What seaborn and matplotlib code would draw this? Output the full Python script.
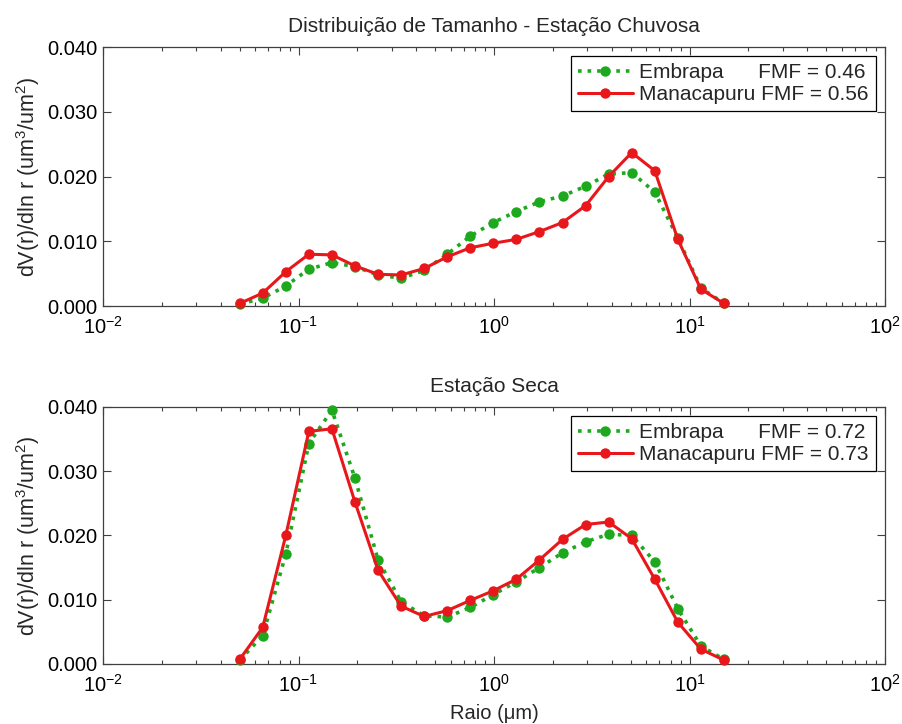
import numpy as np
import pandas as pd
import matplotlib
matplotlib.use("Agg")
import matplotlib.pyplot as plt
import seaborn as sns
from matplotlib.ticker import LogLocator, FixedLocator, FormatStrFormatter, NullFormatter, LogFormatterMathtext

# ---------------- data ----------------
radius = [0.050, 0.065604, 0.086077, 0.112939, 0.148184, 0.194429, 0.255105,
          0.334716, 0.439173, 0.576227, 0.756052, 0.991996, 1.301571, 1.707757,
          2.240702, 2.939966, 3.857452, 5.061260, 6.640745, 8.713145, 11.432287, 15.0]

wet_embrapa = [0.0003, 0.0012, 0.0031, 0.0057, 0.0067, 0.0061, 0.0048, 0.0043, 0.0055,
               0.0080, 0.0108, 0.0129, 0.0146, 0.0161, 0.0170, 0.0185, 0.0204, 0.0206,
               0.0176, 0.0105, 0.0028, 0.0004]
wet_manacapuru = [0.0004, 0.0020, 0.0053, 0.0080, 0.0079, 0.0062, 0.0049, 0.0048, 0.0058,
                  0.0076, 0.0090, 0.0097, 0.0103, 0.0115, 0.0129, 0.0155, 0.0200, 0.0237,
                  0.0209, 0.0103, 0.0026, 0.0004]
dry_embrapa = [0.0006, 0.0044, 0.0171, 0.0343, 0.0395, 0.0289, 0.0162, 0.0097, 0.0075,
               0.0073, 0.0088, 0.0108, 0.0128, 0.0150, 0.0173, 0.0190, 0.0202, 0.0200,
               0.0159, 0.0086, 0.0028, 0.0007]
dry_manacapuru = [0.0007, 0.0057, 0.0200, 0.0362, 0.0366, 0.0252, 0.0146, 0.0090, 0.0074,
                  0.0083, 0.0099, 0.0114, 0.0132, 0.0162, 0.0194, 0.0217, 0.0221, 0.0195,
                  0.0132, 0.0065, 0.0023, 0.0006]

titles = ["Distribuição de Tamanho - Estação Chuvosa", "Estação Seca"]
legend_wet = ["Embrapa      FMF = 0.46", "Manacapuru FMF = 0.56"]
legend_dry = ["Embrapa      FMF = 0.72", "Manacapuru FMF = 0.73"]
yticks = [0.000, 0.010, 0.020, 0.030, 0.040]
xticks = [1e-2, 1e-1, 1e0, 1e1, 1e2]

# ---------------- style ----------------
sns.set_style("ticks")
plt.rcParams["font.family"] = ["Liberation Sans", "DejaVu Sans"]
plt.rcParams["mathtext.fontset"] = "custom"
plt.rcParams["mathtext.rm"] = "Liberation Sans"
plt.rcParams["mathtext.it"] = "Liberation Sans:italic"

GREEN = "#1ea81e"
RED = "#e8171b"
AXC = "#404040"

fig = plt.figure(figsize=(9.02, 7.24), dpi=100)
ax1 = fig.add_axes([0.1142, 0.5773, 0.867, 0.3577])
ax2 = fig.add_axes([0.1142, 0.0829, 0.867, 0.355])

panels = [
    (ax1, wet_embrapa, wet_manacapuru, legend_wet, titles[0]),
    (ax2, dry_embrapa, dry_manacapuru, legend_dry, titles[1]),
]

for ax, emb, man, labels, title in panels:
    df = pd.DataFrame({"r": radius, "emb": emb, "man": man})
    sns.lineplot(data=df, x="r", y="emb", ax=ax, color=GREEN, linestyle=":",
                 linewidth=2.6, marker="o", markersize=7.5, markeredgewidth=0,
                 label=labels[0], clip_on=False, zorder=3)
    sns.lineplot(data=df, x="r", y="man", ax=ax, color=RED, linestyle="-",
                 linewidth=2.2, marker="o", markersize=7.5, markeredgewidth=0,
                 label=labels[1], clip_on=False, zorder=4)
    ax.set_xscale("log")
    ax.set_xlim(1e-2, 1e2)
    ax.set_ylim(0, 0.04)
    ax.xaxis.set_major_locator(FixedLocator(xticks))
    ax.xaxis.set_major_formatter(LogFormatterMathtext())
    ax.xaxis.set_minor_locator(LogLocator(base=10, subs=np.arange(2, 10), numticks=20))
    ax.xaxis.set_minor_formatter(NullFormatter())
    ax.yaxis.set_major_locator(FixedLocator(yticks))
    ax.yaxis.set_major_formatter(FormatStrFormatter("%.3f"))
    ax.tick_params(which="both", direction="in", top=True, right=True,
                   color=AXC, labelsize=14.5, labelcolor="black")
    ax.tick_params(which="major", length=6, width=0.8)
    ax.tick_params(which="minor", length=3, width=0.8)
    ax.tick_params(axis="x", which="major", pad=7)
    ax.tick_params(axis="y", which="major", pad=4)
    for s in ax.spines.values():
        s.set_visible(True)
        s.set_color(AXC)
        s.set_linewidth(0.9)
    ax.set_title(title, fontsize=15, pad=10.5)
    ax.set_ylabel("dV(r)/dln r (um$^3$/um$^2$)", fontsize=15.5, labelpad=4)
    ax.set_xlabel("")
    leg = ax.legend(loc="upper right", fontsize=15, frameon=True, fancybox=False,
                    edgecolor="black", framealpha=1, borderaxespad=0.45,
                    handlelength=2.65, handletextpad=0.3, borderpad=0.33,
                    labelspacing=0.14)
    leg.get_frame().set_linewidth(0.9)

ax2.set_xlabel("Raio (μm)", fontsize=14.5, labelpad=6)

fig.savefig("out.png", dpi=100)
